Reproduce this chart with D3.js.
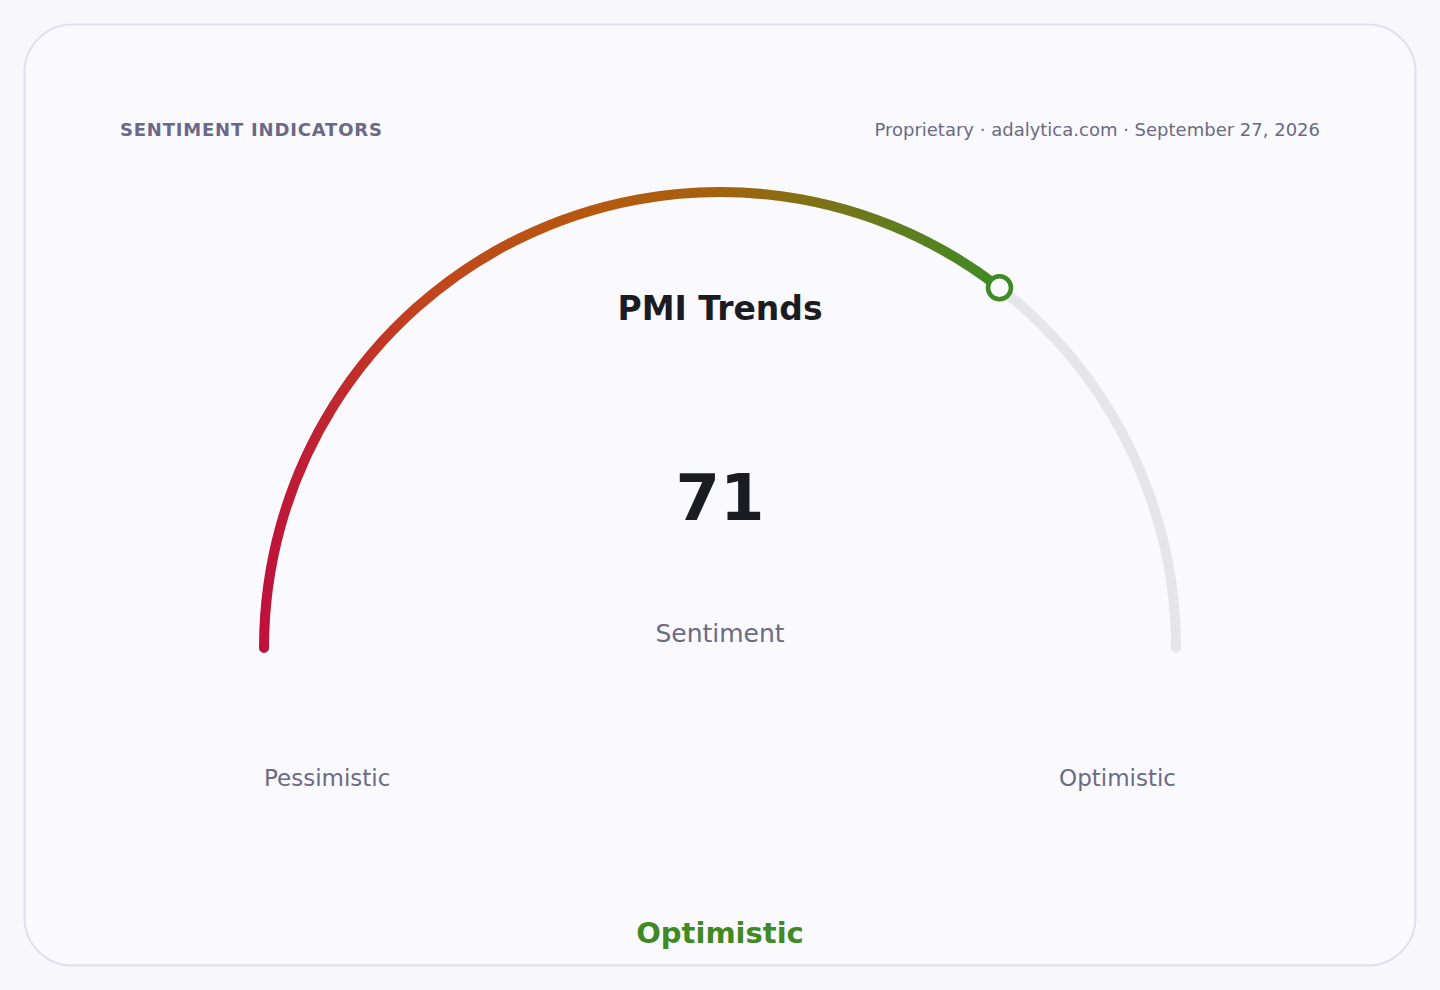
<!DOCTYPE html>
<html>
<head>
<meta charset="utf-8">
<script src="https://cdn.jsdelivr.net/npm/d3@7"></script>
<style>
  html, body { margin: 0; padding: 0; background: #f8f8fc; }
  svg { display: block; font-family: 'DejaVu Sans', sans-serif; }
</style>
</head>
<body>
<script>
// gauge data
const title = 'PMI Trends'
const kicker = 'SENTIMENT INDICATORS'
const source = 'Proprietary · adalytica.com · September 27, 2026'
const value = 71
const domain = [0, 100]
const endLabels = ['Pessimistic', 'Optimistic']
const unitLabel = 'Sentiment'
const verdict = 'Optimistic'

const W = 1440, H = 990
const cx = 720, cy = 648, R = 456

const svg = d3.create('svg')
  .attr('width', W)
  .attr('height', H)
  .attr('viewBox', `0 0 ${W} ${H}`)

svg.append('rect')
  .attr('x', 24.5).attr('y', 24.5)
  .attr('width', 1391).attr('height', 941)
  .attr('rx', 48)
  .attr('fill', '#f9f9fe')
  .attr('stroke', '#e0e0ec')
  .attr('stroke-width', 2)

// value -> canvas angle (0 = right, clockwise with y down)
const angle = d3.scaleLinear().domain(domain).range([-Math.PI, 0])

function arcPath(v0, v1) {
  const p = d3.path()
  p.arc(0, 0, R, angle(v0), angle(v1), false)
  return p.toString()
}

const endX = R * Math.cos(angle(value))
const endY = R * Math.sin(angle(value))

const defs = svg.append('defs')
const grad = defs.append('linearGradient')
  .attr('id', 'g')
  .attr('gradientUnits', 'userSpaceOnUse')
  .attr('x1', -R).attr('x2', endX)
  .attr('y1', 0).attr('y2', 0)
grad.selectAll('stop')
  .data([[0, '#be123c'], [0.22, '#c2451c'], [0.45, '#b5590e'], [0.62, '#a4620e'], [0.8, '#70771a'], [1, '#3f8a24']])
  .join('stop')
  .attr('offset', d => d[0])
  .attr('stop-color', d => d[1])

const g = svg.append('g').attr('transform', `translate(${cx},${cy})`)

// track
g.append('path')
  .attr('d', arcPath(domain[0], domain[1]))
  .attr('fill', 'none')
  .attr('stroke', '#e5e5ea')
  .attr('stroke-width', 10)
  .attr('stroke-linecap', 'round')

// value arc
g.append('path')
  .attr('d', arcPath(domain[0], value))
  .attr('fill', 'none')
  .attr('stroke', 'url(#g)')
  .attr('stroke-width', 10)
  .attr('stroke-linecap', 'round')

// marker
g.append('circle')
  .attr('cx', endX)
  .attr('cy', endY)
  .attr('r', 11.5)
  .attr('fill', '#f9f9fe')
  .attr('stroke', '#3f8a24')
  .attr('stroke-width', 4.5)

// texts
svg.append('text')
  .attr('x', 120).attr('y', 136)
  .attr('font-size', 18).attr('font-weight', 'bold')
  .attr('letter-spacing', 0.8)
  .attr('fill', '#6b6888')
  .text(kicker)

svg.append('text')
  .attr('x', 1320).attr('y', 136)
  .attr('text-anchor', 'end')
  .attr('font-size', 18)
  .attr('fill', '#6b6b80')
  .text(source)

svg.append('text')
  .attr('x', cx).attr('y', 320)
  .attr('text-anchor', 'middle')
  .attr('font-size', 33).attr('font-weight', 'bold')
  .attr('fill', '#1b1b22')
  .text(title)

svg.append('text')
  .attr('x', cx).attr('y', 520)
  .attr('text-anchor', 'middle')
  .attr('font-size', 64).attr('font-weight', 'bold')
  .attr('fill', '#1b1b22')
  .text(value)

svg.append('text')
  .attr('x', cx).attr('y', 642)
  .attr('text-anchor', 'middle')
  .attr('font-size', 25)
  .attr('fill', '#6b6b85')
  .text(unitLabel)

svg.append('text')
  .attr('x', cx - R).attr('y', 786)
  .attr('font-size', 23)
  .attr('fill', '#6b6b85')
  .text(endLabels[0])

svg.append('text')
  .attr('x', cx + R).attr('y', 786)
  .attr('text-anchor', 'end')
  .attr('font-size', 23)
  .attr('fill', '#6b6b85')
  .text(endLabels[1])

svg.append('text')
  .attr('x', cx).attr('y', 943)
  .attr('text-anchor', 'middle')
  .attr('font-size', 29).attr('font-weight', 'bold')
  .attr('fill', '#3f8a24')
  .text(verdict)

document.body.appendChild(svg.node())
</script>
</body>
</html>
